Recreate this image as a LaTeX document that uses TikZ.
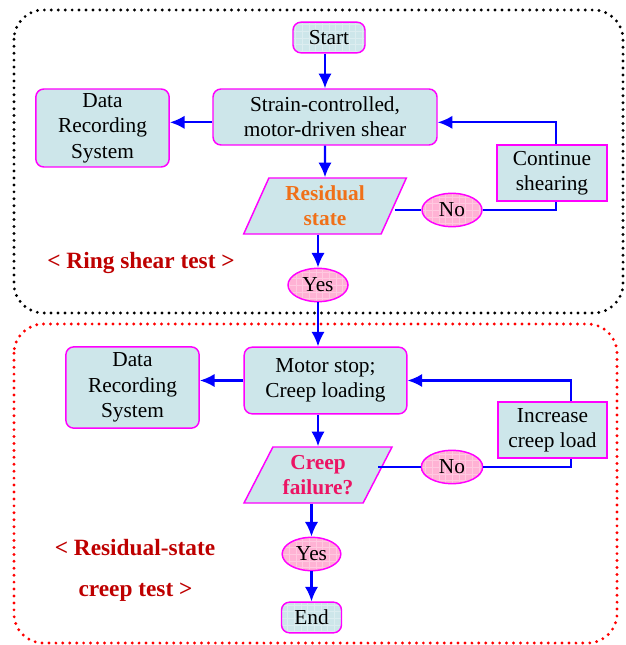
\documentclass[tikz,border=0pt]{standalone}
\usepackage{fontspec}
\setmainfont{Liberation Serif}
\usetikzlibrary{shapes.geometric,arrows.meta}
\definecolor{boxfill}{RGB}{205,230,234}
\definecolor{pinkfill}{RGB}{255,178,212}
\definecolor{edge}{RGB}{255,0,255}
\definecolor{resorange}{RGB}{240,112,24}
\definecolor{creeppink}{RGB}{236,20,100}
\definecolor{labelred}{RGB}{190,0,0}
\tikzset{
  txt/.style={font=\fontsize{16}{19}\selectfont, align=center, inner sep=0pt},
  meshed/.style={path picture={\draw[white, opacity=0.3, line width=0.3pt] (path picture bounding box.south west) grid[step=5pt] (path picture bounding box.north east);}},
  box/.style={txt, draw=edge, line width=1.1pt, fill=boxfill, rounded corners=6pt},
  sqbox/.style={txt, draw=edge, line width=1.1pt, fill=boxfill},
  decision/.style={txt, font=\fontsize{16}{19}\selectfont\bfseries, trapezium, trapezium stretches body, draw=edge, line width=1.1pt, fill=boxfill, minimum height=42pt},
  answer/.style={txt, ellipse, draw=edge, line width=1.1pt, fill=pinkfill, minimum width=45pt, minimum height=25pt, meshed},
  arr/.style={draw=blue, line width=1.7pt, -{Latex[length=11pt,width=10pt]}},
  link/.style={draw=blue, line width=1.7pt},
  frame/.style={line width=2.4pt, line cap=round, dash pattern=on 0pt off 5.2pt, rounded corners=22pt},
  caption/.style={font=\fontsize{17.5}{21}\selectfont\bfseries, text=labelred, inner sep=0pt}
}
\begin{document}
\begin{tikzpicture}[x=0.75pt, y=-0.75pt]
   \useasboundingbox (0,0) rectangle (625,645);
   \draw[frame, black] (14,10) rectangle (623,313);
   \draw[frame, red] (14,324) rectangle (617,643);

   \node[box, meshed, minimum width=54pt, minimum height=23pt] (start) at (329,37.5) {Start};
   \node[box, minimum width=168pt, minimum height=42pt] (strain) at (325,117) {Strain-controlled,\\motor-driven shear};
   \node[box, minimum width=100pt, minimum height=58.5pt] (recordA) at (102.5,128) {Data\\Recording\\System};
   \node[decision, text=resorange, trapezium left angle=58, trapezium right angle=122, minimum width=122pt] (residual) at (325,206) {Residual\\state};
   \node[sqbox, minimum width=82.5pt, minimum height=42pt] (shearing) at (552,173) {Continue\\shearing};
   \node[answer] (noA) at (452,210) {No};
   \node[answer] (yesA) at (318,285) {Yes};
   \node[caption] (ringlabel) at (141,263) {< Ring shear test >};

   \node[box, minimum width=122pt, minimum height=50pt] (motor) at (325.5,380.5) {Motor stop;\\Creep loading};
   \node[box, minimum width=100pt, minimum height=61pt] (recordB) at (132.5,387.5) {Data\\Recording\\System};
   \node[decision, text=creeppink, trapezium left angle=54, trapezium right angle=126, minimum width=111pt] (creep) at (318,475) {Creep\\failure?};
   \node[sqbox, minimum width=82pt, minimum height=42pt] (increase) at (552.5,430) {Increase\\creep load};
   \node[answer, minimum width=46pt] (noB) at (452,467) {No};
   \node[answer, minimum width=44pt] (yesB) at (311.5,554) {Yes};
   \node[box, meshed, minimum width=45pt, minimum height=23pt] (finish) at (311.5,617.5) {End};
   \node[caption] (creeplabelA) at (135,548) {< Residual-state};
   \node[caption] (creeplabelB) at (135.5,592) {creep test >};

   \draw[arr] (start.south -| strain.north) -- (strain.north);
   \draw[arr] (strain.south) -- (residual.north);
   \draw[arr] ([yshift=-4pt]strain.west) -- ([yshift=-4pt]strain.west -| recordA.east);
   \draw[arr] ([xshift=3pt]shearing.north) |- ([yshift=-4pt]strain.east);
   \draw[link] (residual.east |- noA) -- (noA.west);
   \draw[link] (noA.east) -| ([xshift=3pt]shearing.south);
   \draw[arr] (residual.south -| yesA) -- (yesA.north);
   \draw[arr] (yesA.south) -- (yesA.south |- motor.north);

   \draw[arr] (motor.west) -- (motor.west -| recordB.east);
   \draw[arr] (creep.north |- motor.south) -- (creep.north);
   \draw[arr] ([xshift=14pt]increase.north) |- (motor.east);
   \draw[link] (creep.east |- noB) -- (noB.west);
   \draw[link] (noB.east) -| ([xshift=14pt]increase.south);
   \draw[arr] (yesB.north |- creep.south) -- (yesB.north);
   \draw[arr] (yesB.south) -- (finish.north);
\end{tikzpicture}
\end{document}
